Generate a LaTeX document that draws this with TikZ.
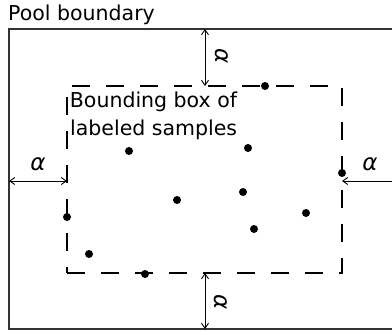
\documentclass[tikz,border=0pt]{standalone}
\usepackage{fontspec}
\setmainfont{DejaVu Sans}
\usetikzlibrary{arrows.meta}
\begin{document}
\begin{tikzpicture}[x=1pt,y=-1pt,
  pool/.style={draw=black!80,line width=1.2pt},
  bbox/.style={draw=black,line width=1.7pt,dash pattern=on 18pt off 16pt},
  gap/.style={draw=black,line width=0.9pt,{Straight Barb[length=5pt,width=7pt]}-{Straight Barb[length=5pt,width=7pt]}},
  sample/.style={circle,fill=black,inner sep=0pt,minimum size=8pt},
  lbl/.style={inner sep=0pt,anchor=base west,font=\fontsize{20.5}{24}\selectfont},
  alph/.style={inner sep=0pt,font=\fontsize{23}{23}\selectfont\itshape}]
\useasboundingbox (0,0) rectangle (392,335);
\clip (0,0) rectangle (392,335);

% pool boundary (right side lies beyond the visible area)
\coordinate (pNW) at (9,29);
\coordinate (pSE) at (399,329);
\draw[pool] (pNW) rectangle (pSE);
\node[lbl] (pooltxt) at (8,20.7) {Pool boundary};

% bounding box of the labelled samples
\coordinate (bSW) at (67,273);
\coordinate (bSE) at (342,273);
\coordinate (bNE) at (342,86);
\coordinate (bNW) at (67,86);
\draw[bbox] (bSW) -- (bSE) -- (bNE) -- (bNW) -- cycle;
\node[lbl] (bbtxtA) at (69.7,107.7) {Bounding box of};
\node[lbl] (bbtxtB) at (70,135) {labeled samples};

% margin arrows
\coordinate (tTop) at (205,29);   \coordinate (tBot) at (205,86);
\coordinate (dTop) at (205,273);  \coordinate (dBot) at (205,329);
\coordinate (lL) at (9,181);      \coordinate (lR) at (67,181);
\coordinate (rL) at (342,181);    \coordinate (rR) at (399,181);
\draw[gap] (tTop) -- (tBot);
\draw[gap] (dTop) -- (dBot);
\draw[gap] (lL) -- (lR);
\draw[gap] (rL) -- (rR);
\node[alph,rotate=-90] (aTop) at (222,56) {α};
\node[alph,rotate=-90] (aBot) at (221,302) {α};
\node[alph] (aLeft) at (38,164) {α};
\node[alph] (aRight) at (370,164) {α};

% labelled samples
\foreach \i/\p in {1/{265,86},2/{129,151},3/{248,148},4/{342,173},5/{177,200},
                   6/{243,192},7/{67,217},8/{306,213},9/{254,229},10/{89,254},11/{145,274}}
  \node[sample] (s\i) at (\p) {};
\end{tikzpicture}
\end{document}
